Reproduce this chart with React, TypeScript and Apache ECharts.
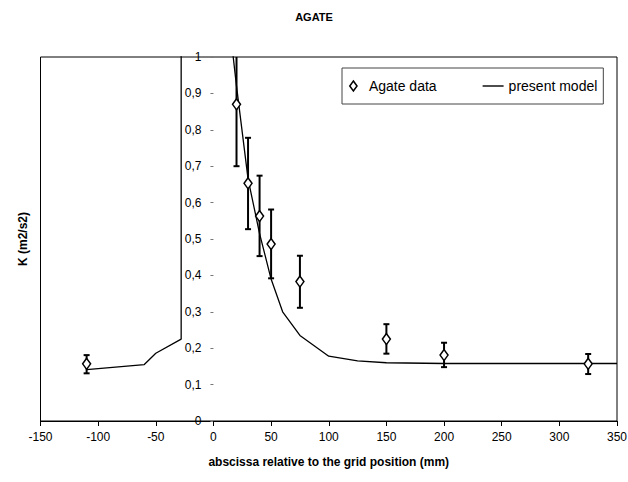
import React, { useEffect, useRef } from "react";
import * as echarts from "echarts";

const FONT = "'Liberation Sans Narrow', 'Arial Narrow', 'Liberation Sans', Arial, sans-serif";

// Agate data (abscissa in mm, K in m2/s2) with error bar limits
const dataX = [-110, 20, 30, 40, 50, 75, 150, 200, 325];
const dataK = [0.157, 0.87, 0.653, 0.563, 0.486, 0.383, 0.225, 0.181, 0.157];
const dataLow = [0.131, 0.7, 0.527, 0.453, 0.392, 0.311, 0.185, 0.148, 0.129];
const dataHigh = [0.181, 1.04, 0.778, 0.674, 0.581, 0.454, 0.266, 0.215, 0.184];

// present model curve
const modelX = [-110, -60, -50, -28, -28, 15, 20, 30, 40, 50, 60, 75, 100, 125, 150, 200, 350];
const modelK = [0.141, 0.155, 0.186, 0.225, 1.5, 1.06, 0.92, 0.665, 0.515, 0.39, 0.3, 0.235, 0.178, 0.165, 0.16, 0.158, 0.158];

const xTicks = { min: -150, max: 350, interval: 50 };
const yTicks = { min: 0, max: 1, interval: 0.1 };

const GRID_LEFT = 40.5;
const GRID_RIGHT = 11;
const WIDTH = 628;

export default function App() {
  const ref = useRef<HTMLDivElement>(null);
  useEffect(() => {
    if (!ref.current) return;
    const chart = echarts.init(ref.current, undefined, { renderer: "svg" });
    const scatterData = dataX.map((x, i) => [x, dataK[i]]);
    const errData = dataX.map((x, i) => [x, dataLow[i], dataHigh[i]]);
    const modelData = modelX.map((x, i) => [x, modelK[i]]);
    // place the y axis where x = 0 (as in the original layout)
    const plotW = WIDTH - GRID_LEFT - GRID_RIGHT;
    const zeroOffset = ((0 - xTicks.min) / (xTicks.max - xTicks.min)) * plotW;
    chart.setOption({
      animation: false,
      backgroundColor: "#fff",
      title: {
        text: "AGATE",
        left: "center",
        top: 11,
        padding: 0,
        textStyle: { fontFamily: FONT, fontSize: 11, fontWeight: "bold", color: "#000" },
      },
      legend: {
        left: 342,
        top: 68,
        orient: "horizontal",
        padding: [11, 6, 11, 7],
        itemGap: 46,
        itemWidth: 21,
        itemHeight: 10,
        symbolKeepAspect: true,
        borderColor: "#444",
        borderWidth: 1,
        textStyle: { fontFamily: FONT, fontSize: 14, color: "#000" },
        data: [
          {
            name: "Agate data",
            icon: "path://M4,0 L8,5.5 L4,11 L0,5.5 Z",
            itemStyle: { color: "#fff", borderColor: "#000", borderWidth: 1.5, opacity: 1 },
          },
          {
            name: "present model",
            icon: "path://M0,0 L30,0 L30,2 L0,2 Z",
            itemStyle: { color: "#000", borderWidth: 0 },
          },
        ],
      },
      grid: {
        left: GRID_LEFT,
        right: GRID_RIGHT,
        top: 57,
        bottom: 61,
        outerBoundsMode: "none",
        containLabel: false,
        show: true,
        borderColor: "#000",
        borderWidth: 1,
        backgroundColor: "transparent",
      },
      xAxis: {
        type: "value",
        min: xTicks.min,
        max: xTicks.max,
        interval: xTicks.interval,
        name: "abscissa relative to the grid position (mm)",
        nameLocation: "middle",
        nameGap: 35,
        nameTextStyle: { fontFamily: FONT, fontSize: 12, fontWeight: "bold", color: "#000" },
        axisLine: { show: true, onZero: false, lineStyle: { color: "#000", width: 1 } },
        axisTick: { show: true, length: 5, lineStyle: { color: "#000" } },
        axisLabel: { fontFamily: FONT, fontSize: 12, color: "#000", margin: 10 },
        splitLine: { show: false },
      },
      yAxis: {
        type: "value",
        min: yTicks.min,
        max: yTicks.max,
        interval: yTicks.interval,
        offset: -zeroOffset,
        name: "K (m2/s2)",
        nameLocation: "middle",
        nameGap: 184,
        nameRotate: 90,
        nameTextStyle: { fontFamily: FONT, fontSize: 12, fontWeight: "bold", color: "#000" },
        axisLine: { show: false, onZero: false },
        axisTick: { show: true, length: 3, lineStyle: { color: "#777" } },
        axisLabel: {
          fontFamily: FONT,
          fontSize: 12,
          color: "#000",
          margin: 12,
          formatter: (v: number) => String(Math.round(v * 10) / 10).replace(".", ","),
        },
        splitLine: { show: false },
      },
      series: [
        {
          name: "present model",
          type: "line",
          data: modelData,
          symbol: "none",
          clip: true,
          lineStyle: { color: "#000", width: 1.3 },
          itemStyle: { color: "#000" },
          z: 2,
        },
        {
          name: "errors",
          type: "custom",
          clip: true,
          data: errData,
          z: 3,
          renderItem: (params: any, api: any) => {
            const x = api.value(0);
            const lo = api.coord([x, api.value(1)]);
            const hi = api.coord([x, api.value(2)]);
            const hw = 3;
            const style = { stroke: "#000", lineWidth: 2 };
            return {
              type: "group",
              children: [
                { type: "line", shape: { x1: lo[0], y1: lo[1], x2: hi[0], y2: hi[1] }, style },
                { type: "line", shape: { x1: lo[0] - hw, y1: lo[1], x2: lo[0] + hw, y2: lo[1] }, style },
                { type: "line", shape: { x1: hi[0] - hw, y1: hi[1], x2: hi[0] + hw, y2: hi[1] }, style },
              ],
            };
          },
        },
        {
          name: "Agate data",
          type: "scatter",
          data: scatterData,
          symbol: "diamond",
          symbolSize: [8, 11],
          itemStyle: { color: "#fff", borderColor: "#000", borderWidth: 1.5, opacity: 1 },
          z: 4,
        },
      ],
    });
    return () => chart.dispose();
  }, []);
  return <div ref={ref} style={{ width: 628, height: 482, position: "absolute", left: 0, top: 0 }} />;
}
